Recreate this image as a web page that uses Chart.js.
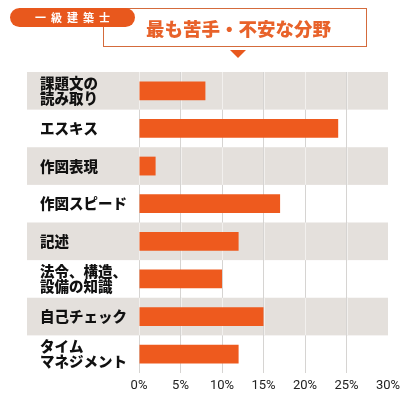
<!DOCTYPE html>
<html><head><meta charset="utf-8">
<script src="https://cdn.jsdelivr.net/npm/chart.js@4"></script>
<style>
html,body{margin:0;padding:0;background:#fff;}
#wrap{position:relative;width:410px;height:412px;overflow:hidden;}
#c{position:absolute;left:0;top:0;}
.box{position:absolute;left:103px;top:8px;width:262px;height:37px;border:1.5px solid #d46b3c;box-sizing:content-box;}
.title{position:absolute;left:103px;top:8px;width:265px;height:40px;line-height:40px;text-align:center;font-family:"Noto Sans CJK JP";font-weight:900;font-size:18.5px;color:#e8622a;padding-left:3px;}
.pill{position:absolute;left:10px;top:8px;width:125px;height:19px;border-radius:10px;background:#e8581d;color:#fff;font-family:"Noto Sans CJK JP";font-weight:700;font-size:11px;line-height:19px;text-align:center;letter-spacing:5px;text-indent:5px;}
.tri{position:absolute;left:230px;top:50px;width:0;height:0;border-left:8.5px solid transparent;border-right:8.5px solid transparent;border-top:8px solid #e8581d;}
</style></head>
<body><div id="wrap">
<canvas id="c" width="410" height="412"></canvas>
<div class="box"></div>
<div class="title">最も苦手・不安な分野</div>
<div class="pill">一級建築士</div>
<div class="tri"></div>
</div>
<script>
const categories = [
  ['課題文の','読み取り'],
  'エスキス',
  '作図表現',
  '作図スピード',
  '記述',
  ['法令、構造、','設備の知識'],
  '自己チェック',
  ['タイム','マネジメント']
];
const values = [8, 24, 2, 17, 12, 10, 15, 12];
const tickValues = [0, 5, 10, 15, 20, 25, 30];

function bandRows(chart, cb) {
  const y = chart.scales.y, ca = chart.chartArea;
  const step = (ca.bottom - ca.top) / categories.length;
  for (let i = 0; i < categories.length; i += 2) {
    const cy = y.getPixelForValue(i);
    cb(cy - step / 2, cy + step / 2);
  }
}

const bandPlugin = {
  id: 'bands',
  beforeDraw(chart) {
    const ctx = chart.ctx, ca = chart.chartArea;
    ctx.save();
    ctx.fillStyle = '#e4e0dc';
    bandRows(chart, (top, bot) => ctx.fillRect(27, top, ca.right - 27, bot - top));
    ctx.restore();
  },
  beforeDatasetsDraw(chart) {
    const ctx = chart.ctx, x = chart.scales.x;
    ctx.save();
    ctx.strokeStyle = '#f2f0ee';
    ctx.lineWidth = 1;
    bandRows(chart, (top, bot) => {
      tickValues.slice(0, -1).forEach(v => {
        const px = Math.round(x.getPixelForValue(v)) + 0.5;
        ctx.beginPath(); ctx.moveTo(px, top); ctx.lineTo(px, bot); ctx.stroke();
      });
    });
    ctx.restore();
  }
};

new Chart(document.getElementById('c'), {
  type: 'bar',
  data: {
    labels: categories,
    datasets: [{
      data: values,
      backgroundColor: '#ee5a1e',
      borderWidth: 0,
      barPercentage: 0.5,
      categoryPercentage: 1
    }]
  },
  options: {
    indexAxis: 'y',
    responsive: false,
    animation: false,
    devicePixelRatio: 1,
    layout: { padding: { left: 40, top: 72, right: 22, bottom: 13.4 } },
    plugins: { legend: { display: false }, tooltip: { enabled: false } },
    scales: {
      x: {
        min: 0, max: 30,
        afterBuildTicks(scale) { scale.ticks = tickValues.map(v => ({ value: v })); },
        border: { display: false },
        grid: {
          drawTicks: false,
          color: ctx => (ctx.tick && ctx.tick.value === 30) ? 'rgba(0,0,0,0)' : '#d6d4d2',
          lineWidth: 1
        },
        ticks: {
          padding: 5,
          color: '#222',
          font: { family: 'Roboto', size: 13 },
          callback: v => v + '%'
        }
      },
      y: {
        border: { display: false },
        grid: { display: false, drawTicks: false },
        afterFit(scale) { scale.width = 99; },
        ticks: {
          crossAlign: 'far',
          padding: 0,
          color: '#111',
          font: { family: '"Noto Sans CJK JP"', size: 14.5, weight: '900', lineHeight: 1.05 }
        }
      }
    }
  },
  plugins: [bandPlugin]
});
</script>
</body></html>
